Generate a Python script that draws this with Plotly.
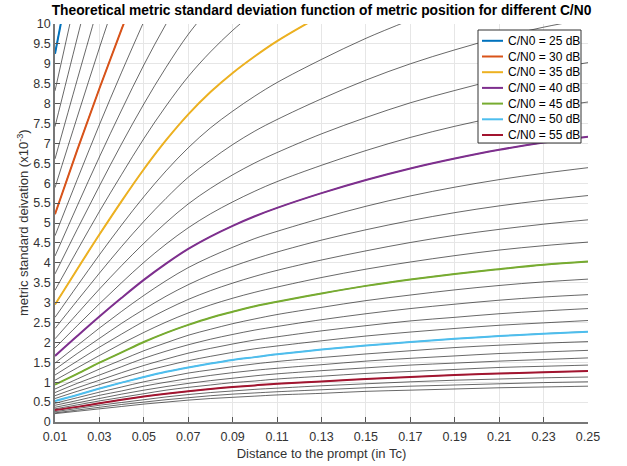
import plotly.graph_objects as go

# Distance to the prompt (in Tc)
x_vals = [0.01, 0.02, 0.03, 0.04, 0.05, 0.06, 0.07, 0.08, 0.09, 0.10, 0.11,
          0.13, 0.15, 0.17, 0.19, 0.21, 0.23, 0.25]

# C/N0 values (dB) of all curves drawn
cn0_all = list(range(25, 59))

# metric standard deviation (x1e-3) read per C/N0 at x_vals (curves leaving the axes are truncated)
std_25 = [9.25, 12.15]
std_26 = [8.32, 10.83]
std_27 = [7.42, 9.65, 11.84]
std_28 = [6.61, 8.60, 10.55]
std_29 = [5.89, 7.66, 9.40, 11.07]
std_30 = [5.22, 6.83, 8.38, 9.87, 11.29]
std_31 = [4.68, 6.09, 7.47, 8.79, 10.06]
std_32 = [4.17, 5.43, 6.66, 7.84, 8.97, 10.00, 10.93]
std_33 = [3.72, 4.84, 5.93, 6.99, 7.99, 8.91, 9.74, 10.43]
std_34 = [3.31, 4.31, 5.29, 6.22, 7.12, 7.94, 8.68, 9.30, 9.84, 10.31]
std_35 = [2.95, 3.84, 4.71, 5.55, 6.35, 7.08, 7.73, 8.29, 8.77, 9.19, 9.57, 10.22]
std_36 = [2.63, 3.42, 4.20, 4.95, 5.66, 6.31, 6.89, 7.39, 7.81, 8.19, 8.53, 9.11, 9.64, 10.10]
std_37 = [2.35, 3.05, 3.74, 4.41, 5.04, 5.62, 6.15, 6.58, 6.97, 7.31, 7.60, 8.12, 8.59, 9.00, 9.35, 9.66, 9.92, 10.13]
std_38 = [2.09, 2.72, 3.34, 3.93, 4.49, 5.01, 5.48, 5.87, 6.21, 6.51, 6.77, 7.24, 7.65, 8.02, 8.33, 8.61, 8.84, 9.03]
std_39 = [1.86, 2.42, 2.97, 3.50, 4.01, 4.47, 4.88, 5.23, 5.53, 5.80, 6.04, 6.45, 6.82, 7.15, 7.43, 7.67, 7.88, 8.04]
std_40 = [1.66, 2.16, 2.65, 3.12, 3.57, 3.98, 4.35, 4.66, 4.93, 5.17, 5.38, 5.75, 6.08, 6.37, 6.62, 6.84, 7.02, 7.17]
std_41 = [1.48, 1.92, 2.36, 2.78, 3.18, 3.55, 3.88, 4.15, 4.39, 4.61, 4.79, 5.12, 5.42, 5.68, 5.90, 6.09, 6.25, 6.39]
std_42 = [1.32, 1.72, 2.10, 2.48, 2.83, 3.16, 3.45, 3.70, 3.91, 4.10, 4.27, 4.57, 4.83, 5.06, 5.26, 5.43, 5.57, 5.69]
std_43 = [1.18, 1.53, 1.88, 2.21, 2.53, 2.82, 3.08, 3.30, 3.49, 3.66, 3.81, 4.07, 4.30, 4.51, 4.69, 4.84, 4.97, 5.08]
std_44 = [1.05, 1.36, 1.67, 1.97, 2.25, 2.51, 2.74, 2.94, 3.11, 3.26, 3.39, 3.63, 3.84, 4.02, 4.18, 4.32, 4.43, 4.52]
std_45 = [0.94, 1.21, 1.49, 1.75, 2.01, 2.24, 2.44, 2.62, 2.77, 2.91, 3.02, 3.23, 3.42, 3.58, 3.72, 3.84, 3.95, 4.03]
std_46 = [0.83, 1.08, 1.33, 1.56, 1.79, 1.99, 2.18, 2.33, 2.47, 2.59, 2.70, 2.88, 3.05, 3.19, 3.32, 3.43, 3.52, 3.59]
std_47 = [0.74, 0.97, 1.18, 1.39, 1.60, 1.78, 1.94, 2.08, 2.20, 2.31, 2.40, 2.57, 2.72, 2.85, 2.96, 3.06, 3.14, 3.20]
std_48 = [0.66, 0.86, 1.05, 1.24, 1.42, 1.58, 1.73, 1.85, 1.96, 2.06, 2.14, 2.29, 2.42, 2.54, 2.63, 2.72, 2.79, 2.85]
std_49 = [0.59, 0.77, 0.94, 1.11, 1.27, 1.41, 1.54, 1.65, 1.75, 1.84, 1.91, 2.04, 2.16, 2.26, 2.35, 2.43, 2.49, 2.55]
std_50 = [0.53, 0.68, 0.84, 0.99, 1.13, 1.26, 1.37, 1.47, 1.56, 1.63, 1.70, 1.82, 1.92, 2.01, 2.09, 2.16, 2.22, 2.27]
std_51 = [0.47, 0.61, 0.75, 0.88, 1.01, 1.12, 1.23, 1.31, 1.39, 1.46, 1.52, 1.62, 1.71, 1.79, 1.87, 1.93, 1.98, 2.02]
std_52 = [0.42, 0.54, 0.67, 0.78, 0.90, 1.00, 1.09, 1.17, 1.24, 1.30, 1.35, 1.44, 1.53, 1.60, 1.66, 1.72, 1.76, 1.80]
std_53 = [0.37, 0.48, 0.59, 0.70, 0.80, 0.89, 0.97, 1.04, 1.10, 1.16, 1.21, 1.29, 1.36, 1.43, 1.48, 1.53, 1.57, 1.61]
std_54 = [0.33, 0.43, 0.53, 0.62, 0.71, 0.80, 0.87, 0.93, 0.99, 1.03, 1.08, 1.15, 1.22, 1.27, 1.32, 1.37, 1.40, 1.43]
std_55 = [0.30, 0.38, 0.47, 0.56, 0.64, 0.71, 0.77, 0.83, 0.88, 0.92, 0.96, 1.02, 1.08, 1.13, 1.18, 1.22, 1.25, 1.28]
std_56 = [0.26, 0.34, 0.42, 0.49, 0.56, 0.63, 0.69, 0.74, 0.78, 0.82, 0.85, 0.91, 0.96, 1.01, 1.05, 1.08, 1.11, 1.13]
std_57 = [0.23, 0.30, 0.37, 0.44, 0.50, 0.56, 0.61, 0.66, 0.70, 0.73, 0.76, 0.81, 0.86, 0.90, 0.93, 0.96, 0.99, 1.01]
std_58 = [0.21, 0.27, 0.33, 0.39, 0.45, 0.50, 0.55, 0.59, 0.62, 0.65, 0.68, 0.72, 0.77, 0.80, 0.83, 0.86, 0.88, 0.90]

std_by_cn0 = {
    25: std_25, 26: std_26, 27: std_27, 28: std_28, 29: std_29, 30: std_30,
    31: std_31, 32: std_32, 33: std_33, 34: std_34, 35: std_35, 36: std_36,
    37: std_37, 38: std_38, 39: std_39, 40: std_40, 41: std_41, 42: std_42,
    43: std_43, 44: std_44, 45: std_45, 46: std_46, 47: std_47, 48: std_48,
    49: std_49, 50: std_50, 51: std_51, 52: std_52, 53: std_53, 54: std_54,
    55: std_55, 56: std_56, 57: std_57, 58: std_58,
}

highlight_cn0 = [25, 30, 35, 40, 45, 50, 55]
highlight_colors = ["#0072BD", "#D95319", "#EDB120", "#7E2F8E", "#77AC30", "#4DBEEE", "#A2142F"]
legend_labels = [f"C/N0 = {c} dB" for c in highlight_cn0]

x_ticks = [0.01, 0.03, 0.05, 0.07, 0.09, 0.11, 0.13, 0.15, 0.17, 0.19, 0.21, 0.23, 0.25]
y_ticks = [0, 0.5, 1, 1.5, 2, 2.5, 3, 3.5, 4, 4.5, 5, 5.5, 6, 6.5, 7, 7.5, 8, 8.5, 9, 9.5, 10]
y_ticklabels = ["0", "0.5", "1", "1.5", "2", "2.5", "3", "3.5", "4", "4.5", "5", "5.5",
                "6", "6.5", "7", "7.5", "8", "8.5", "9", "9.5", "10"]

FONT = "Liberation Sans, Arial, sans-serif"
W, H = 627, 466
L, R, T, B = 55, 39, 24, 44
PW, PH = W - L - R, H - T - B


def px_x(px):
    return (px - L) / PW


def px_y(py):
    return (H - B - py) / PH


fig = go.Figure()

for c in cn0_all:
    ys = std_by_cn0[c]
    fig.add_trace(go.Scatter(
        x=x_vals[:len(ys)], y=ys, mode="lines", showlegend=False, hoverinfo="skip",
        line=dict(color="rgba(0,0,0,0.85)", width=0.7, shape="spline", smoothing=1.0),
    ))

for c, col, lab in zip(highlight_cn0, highlight_colors, legend_labels):
    ys = std_by_cn0[c]
    fig.add_trace(go.Scatter(
        x=x_vals[:len(ys)], y=ys, mode="lines", name=lab, showlegend=False,
        line=dict(color=col, width=2, shape="spline", smoothing=1.0),
    ))

# custom legend box (drawn to match the compact reference legend)
shapes = [dict(type="rect", xref="paper", yref="paper",
               x0=px_x(478), x1=px_x(581), y0=px_y(143), y1=px_y(30),
               line=dict(color="#333333", width=1), fillcolor="white", layer="above")]
annotations = []
for i, (col, lab) in enumerate(zip(highlight_colors, legend_labels)):
    yc = 40.8 + i * 15.7
    shapes.append(dict(type="line", xref="paper", yref="paper",
                       x0=px_x(482), x1=px_x(503), y0=px_y(yc), y1=px_y(yc),
                       line=dict(color=col, width=2), layer="above"))
    annotations.append(dict(text=lab, xref="paper", yref="paper",
                            x=px_x(506), y=px_y(yc), xanchor="left", yanchor="middle",
                            showarrow=False, font=dict(family=FONT, size=12, color="#000000")))

# y-axis title placed as rotated text
annotations.append(dict(
    text="metric standard deivation (x10<sup>-3</sup>)", xref="paper", yref="paper",
    x=px_x(23), y=0.5, xanchor="center", yanchor="middle", textangle=-90,
    showarrow=False, font=dict(family=FONT, size=13, color="#333333"),
))

fig.update_layout(
    width=W, height=H,
    margin=dict(l=L, r=R, t=T, b=B),
    paper_bgcolor="white", plot_bgcolor="white",
    font=dict(family=FONT, size=12.5, color="#333333"),
    title=dict(
        text="<b>Theoretical metric standard deviation function of metric position for different C/N0</b>",
        x=0.5, xref="paper", xanchor="center", y=1 - 10 / H, yanchor="middle",
        font=dict(family=FONT, size=13.8, color="#000000"),
    ),
    showlegend=False,
    shapes=shapes,
    annotations=annotations,
)

fig.update_xaxes(
    range=[0.01, 0.25], tickvals=x_ticks, ticktext=[f"{v:.2f}" for v in x_ticks],
    tickfont=dict(family=FONT, size=12.5, color="#333333"),
    showgrid=True, gridcolor="#e6e6e6", gridwidth=1,
    showline=True, linecolor="#777777", linewidth=1.5,
    ticks="inside", ticklen=5, tickcolor="#555555", ticklabelstandoff=2,
    zeroline=False, automargin=False,
    title=dict(text="Distance to the prompt (in Tc)", font=dict(family=FONT, size=13, color="#333333"), standoff=6),
)
fig.update_yaxes(
    range=[0, 10], tickvals=y_ticks, ticktext=y_ticklabels,
    tickfont=dict(family=FONT, size=12.5, color="#333333"),
    showgrid=True, gridcolor="#e6e6e6", gridwidth=1,
    showline=True, linecolor="#777777", linewidth=1.5,
    ticks="inside", ticklen=5, tickcolor="#555555",
    zeroline=False, automargin=False,
)

fig.write_html(
    "out.html",
    config={"displayModeBar": False},
    post_script="document.body.style.margin='0';document.body.style.padding='0';",
)
